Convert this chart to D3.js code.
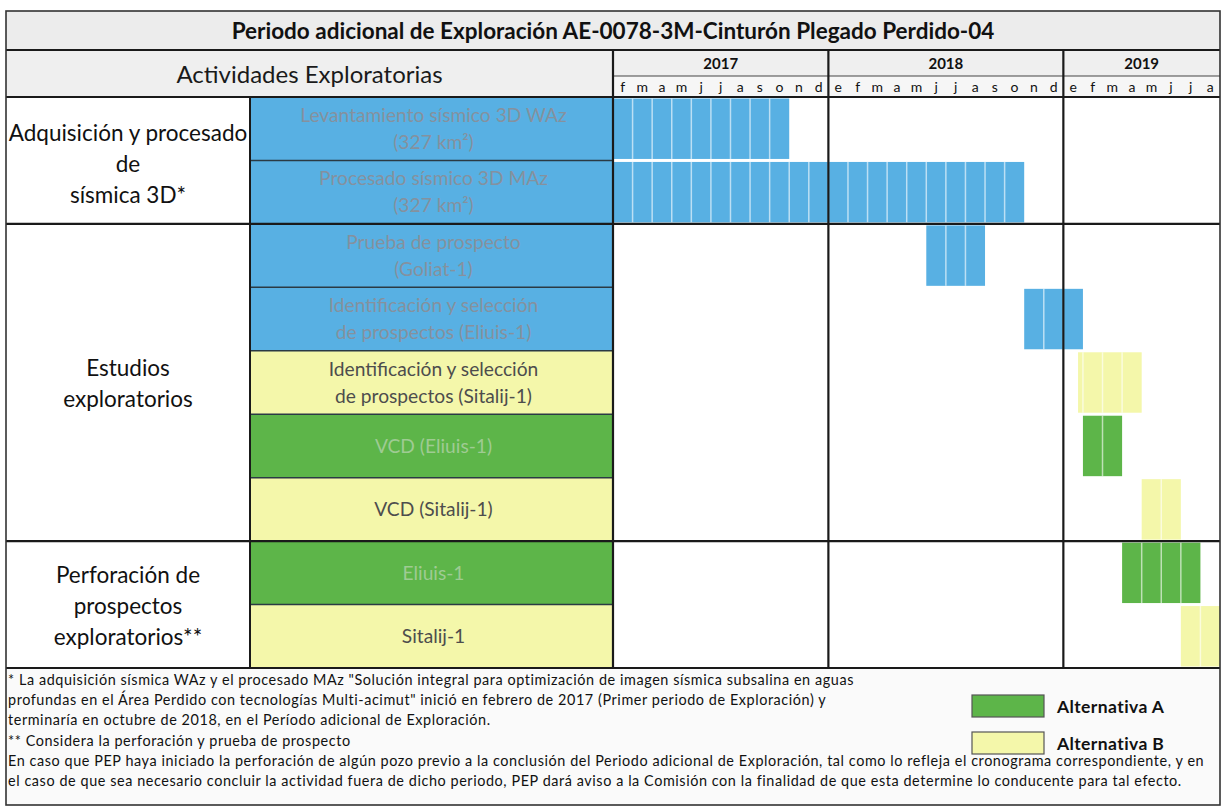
<!DOCTYPE html>
<html>
<head>
<meta charset="utf-8">
<script src="https://cdn.jsdelivr.net/npm/d3@7/dist/d3.min.js"></script>
<style>
  html, body { margin: 0; padding: 0; background: #ffffff; }
  svg { display: block; font-family: Lato, "Open Sans", sans-serif; }
</style>
</head>
<body>
<svg id="chart" width="1225" height="808"></svg>
<script>
// ---------------- DATA ----------------
const titleText = "Periodo adicional de Exploración AE-0078-3M-Cinturón Plegado Perdido-04";
const headerText = "Actividades Exploratorias";
const monthLabels = ["f","m","a","m","j","j","a","s","o","n","d",
                     "e","f","m","a","m","j","j","a","s","o","n","d",
                     "e","f","m","a","m","j","j","a"];
const yearLabels = ["2017", "2018", "2019"];
const yearMonthCounts = [11, 12, 8];
const activityLines = [
  ["Levantamiento sísmico 3D WAz", "(327 km²)"],
  ["Procesado sísmico 3D MAz", "(327 km²)"],
  ["Prueba de prospecto", "(Goliat-1)"],
  ["Identificación y selección", "de prospectos (Eliuis-1)"],
  ["Identificación y selección", "de prospectos (Sitalij-1)"],
  ["VCD (Eliuis-1)"],
  ["VCD (Sitalij-1)"],
  ["Eliuis-1"],
  ["Sitalij-1"]
];
const activityKind = ["base", "base", "base", "base", "B", "A", "B", "A", "B"];
// month index: 0 = febrero 2017 ... 30 = agosto 2019 (end exclusive)
const barStart = [0, 0, 16, 21, 23.75, 24, 27, 26, 29];
const barEnd   = [9, 21, 19, 24, 27, 26, 29, 30, 31];
const groupLines = [
  ["Adquisición y procesado", "de", "sísmica 3D*"],
  ["Estudios", "exploratorios"],
  ["Perforación de", "prospectos", "exploratorios**"]
];
const groupRowCounts = [2, 5, 2];
const footnotes = [
  "* La adquisición sísmica WAz y el procesado MAz \"Solución integral para optimización de imagen sísmica subsalina en aguas",
  "profundas en el Área Perdido con tecnologías Multi-acimut\" inició en febrero de 2017 (Primer periodo de Exploración) y",
  "terminaría en octubre de 2018, en el Período adicional de Exploración.",
  "** Considera la perforación y prueba de prospecto",
  "En caso que PEP haya iniciado la perforación de algún pozo previo a la conclusión del Periodo adicional de Exploración, tal como lo refleja el cronograma correspondiente, y en",
  "el caso de que sea necesario concluir la actividad fuera de dicho periodo, PEP dará aviso a la Comisión con la finalidad de que esta determine lo conducente para tal efecto."
];
const legendLabels = ["Alternativa A", "Alternativa B"];
const legendKinds = ["A", "B"];

// ---------------- STYLE / LAYOUT ----------------
const kindFill = { base: "#58b0e3", A: "#5db549", B: "#f4f7aa" };
const kindText = { base: "#85919e", A: "#9fcb93", B: "#4d4d4d" };
const L = 6, R = 1220, TOP = 11, BOTTOM = 805;
const titleBottom = 50, yearBottom = 76, headBottom = 97, bodyBottom = 668;
const catRight = 250, actRight = 613;

const svg = d3.select("#chart");

const x = d3.scaleLinear().domain([0, monthLabels.length]).range([actRight, R]);
const y = d3.scaleBand().domain(d3.range(activityLines.length)).range([headBottom, bodyBottom]).padding(0);

// backgrounds
svg.append("rect").attr("x", L).attr("y", TOP).attr("width", R - L).attr("height", titleBottom - TOP).attr("fill", "#ececec");
svg.append("rect").attr("x", L).attr("y", titleBottom).attr("width", R - L).attr("height", headBottom - titleBottom).attr("fill", "#efefef");
svg.append("rect").attr("x", actRight).attr("y", yearBottom).attr("width", R - actRight).attr("height", headBottom - yearBottom).attr("fill", "#f6f6f6");
svg.append("rect").attr("x", L).attr("y", bodyBottom).attr("width", R - L).attr("height", BOTTOM - bodyBottom).attr("fill", "#fafafa");

// title
svg.append("text").attr("x", (L + R) / 2).attr("y", (TOP + titleBottom) / 2 + 1).attr("dy", "0.35em")
  .attr("text-anchor", "middle").attr("font-weight", "bold").attr("font-size", 22.5).attr("fill", "#111")
  .text(titleText);
svg.append("text").attr("x", (L + actRight) / 2).attr("y", (titleBottom + headBottom) / 2 + 1).attr("dy", "0.35em")
  .attr("text-anchor", "middle").attr("font-size", 24).attr("fill", "#1a1a1a")
  .text(headerText);

// years
const yearStarts = yearMonthCounts.map((c, i) => d3.sum(yearMonthCounts.slice(0, i)));
svg.selectAll(".year").data(yearLabels).join("text")
  .attr("x", (d, i) => (x(yearStarts[i]) + x(yearStarts[i] + yearMonthCounts[i])) / 2)
  .attr("y", (titleBottom + yearBottom) / 2 + 1).attr("dy", "0.35em")
  .attr("text-anchor", "middle").attr("font-weight", "bold").attr("font-size", 15).attr("fill", "#111")
  .text(d => d);
// months
svg.selectAll(".month").data(monthLabels).join("text")
  .attr("x", (d, i) => x(i + 0.5)).attr("y", (yearBottom + headBottom) / 2 + 1).attr("dy", "0.35em")
  .attr("text-anchor", "middle").attr("font-size", 14).attr("fill", "#111")
  .text(d => d);

// activity label cells
const rows = svg.selectAll(".act").data(activityLines).join("g");
rows.append("rect")
  .attr("x", catRight).attr("y", (d, i) => y(i)).attr("width", actRight - catRight).attr("height", y.bandwidth())
  .attr("fill", (d, i) => kindFill[activityKind[i]]);
rows.each(function(lines, i) {
  const g = d3.select(this);
  const cy = y(i) + y.bandwidth() / 2;
  const step = 27;
  lines.forEach((t, k) => {
    g.append("text").attr("x", (catRight + actRight) / 2 + 2)
      .attr("y", cy + (k - (lines.length - 1) / 2) * step).attr("dy", "0.35em")
      .attr("text-anchor", "middle").attr("font-size", 19.2)
      .attr("fill", kindText[activityKind[i]]).text(t);
  });
});

// bars
const bars = svg.selectAll(".bar").data(activityLines).join("g");
bars.append("rect")
  .attr("x", (d, i) => x(barStart[i])).attr("y", (d, i) => y(i) + 1.5)
  .attr("width", (d, i) => x(barEnd[i]) - x(barStart[i])).attr("height", y.bandwidth() - 3)
  .attr("fill", (d, i) => kindFill[activityKind[i]]);
bars.each(function(d, i) {
  const g = d3.select(this);
  const seps = d3.range(Math.floor(barStart[i]) + 1, Math.ceil(barEnd[i]));
  g.selectAll("line").data(seps).join("line")
    .attr("x1", m => x(m)).attr("x2", m => x(m))
    .attr("y1", y(i) + 1.5).attr("y2", y(i) + y.bandwidth() - 1.5)
    .attr("stroke", "rgba(255,255,255,0.6)").attr("stroke-width", 1.5);
});

// category labels
let rowCursor = 0;
const groupShift = [4, 1, 2];
groupLines.forEach((lines, gi) => {
  const y0 = y(rowCursor);
  const y1 = y(rowCursor + groupRowCounts[gi] - 1) + y.bandwidth();
  const cy = (y0 + y1) / 2 + groupShift[gi];
  const step = 31;
  lines.forEach((t, k) => {
    svg.append("text").attr("x", (L + catRight) / 2).attr("y", cy + (k - (lines.length - 1) / 2) * step)
      .attr("dy", "0.35em").attr("text-anchor", "middle").attr("font-size", 22.5).attr("fill", "#111").text(t);
  });
  rowCursor += groupRowCounts[gi];
});

// grid lines
const line = (x1, y1, x2, y2, w, c) => svg.append("line").attr("x1", x1).attr("y1", y1).attr("x2", x2).attr("y2", y2)
  .attr("stroke", c || "#1a1a1a").attr("stroke-width", w);
d3.range(1, activityLines.length).forEach(i => line(catRight, y(i), actRight, y(i), 1.5, "#2a3a44"));
let acc = 0;
groupRowCounts.slice(0, -1).forEach(c => { acc += c; line(L, y(acc), R, y(acc), 2.2); });
line(L, titleBottom, R, titleBottom, 2);
line(L, headBottom, R, headBottom, 2.2);
line(actRight, yearBottom, R, yearBottom, 1.2, "#444");
line(L, bodyBottom, R, bodyBottom, 2.2);
line(catRight, headBottom, catRight, bodyBottom, 2);
line(actRight, titleBottom, actRight, bodyBottom, 2.2);
yearStarts.slice(1).forEach(s => line(x(s), titleBottom, x(s), bodyBottom, 2.2));
svg.append("rect").attr("x", L).attr("y", TOP).attr("width", R - L).attr("height", BOTTOM - TOP)
  .attr("fill", "none").attr("stroke", "#333").attr("stroke-width", 1.6);

// footnotes
svg.selectAll(".foot").data(footnotes).join("text")
  .attr("x", 8).attr("y", (d, i) => 680 + i * 20.2).attr("dy", "0.35em")
  .attr("font-size", 14.4).attr("letter-spacing", 0.58).attr("fill", "#111").text(d => d);

// legend
const legY = [706, 743];
legendLabels.forEach((t, i) => {
  svg.append("rect").attr("x", 972).attr("y", legY[i] - 11).attr("width", 72).attr("height", 22)
    .attr("fill", kindFill[legendKinds[i]]).attr("stroke", "#555").attr("stroke-width", 1.2);
  svg.append("text").attr("x", 1057).attr("y", legY[i] + 1).attr("dy", "0.35em")
    .attr("font-weight", "bold").attr("font-size", 17.5).attr("letter-spacing", 0.4).attr("fill", "#111").text(t);
});
</script>
</body>
</html>
